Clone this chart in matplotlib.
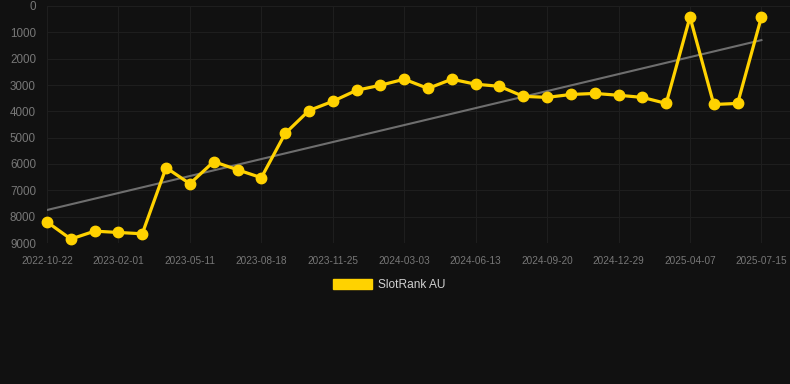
import matplotlib
matplotlib.use("Agg")
import matplotlib.pyplot as plt
import numpy as np

# monthly points, only every third label is shown on the axis
dates = [
    "2022-10-22", "2022-11-25", "2022-12-29", "2023-02-01", "2023-03-06", "2023-04-08",
    "2023-05-11", "2023-06-13", "2023-07-16", "2023-08-18", "2023-09-20", "2023-10-23",
    "2023-11-25", "2023-12-28", "2024-01-30", "2024-03-03", "2024-04-07", "2024-05-10",
    "2024-06-13", "2024-07-16", "2024-08-18", "2024-09-20", "2024-10-23", "2024-11-26",
    "2024-12-29", "2025-01-31", "2025-03-05", "2025-04-07", "2025-05-10", "2025-06-12",
    "2025-07-15",
]
rank = [
    8200, 8850, 8550, 8600, 8650, 6140, 6750, 5910, 6220, 6520,
    4840, 3970, 3620, 3200, 3010, 2780, 3130, 2780, 2970, 3050,
    3430, 3470, 3360, 3320, 3390, 3470, 3700, 420, 3740, 3700, 420,
]
y_ticks = [0, 1000, 2000, 3000, 4000, 5000, 6000, 7000, 8000, 9000]

BG = "#111111"
YELLOW = "#FFD200"

plt.rcParams["font.family"] = ["Liberation Sans", "DejaVu Sans"]

fig = plt.figure(figsize=(7.9, 3.84), dpi=100, facecolor=BG)
ax = fig.add_axes([47 / 790, 1 - 243 / 384, (790 - 47) / 790, (243 - 6) / 384])
ax.set_facecolor(BG)

x = np.arange(len(dates))
slope, icpt = np.polyfit(x, rank, 1)
ax.plot(x, slope * x + icpt, color="#6e6e6e", lw=1.5, zorder=2)
ax.plot(x, rank, color=YELLOW, lw=2.3, marker="o", ms=7.5, zorder=3,
        clip_on=False, label="SlotRank AU")

ax.set_xlim(0, 31.2)
ax.set_ylim(9000, 0)
ax.set_yticks(y_ticks)
ax.set_xticks(x[::3])
ax.set_xticklabels(dates[::3])
ax.grid(True, color="#1e1e1e", lw=0.8)
ax.set_axisbelow(True)
for s in ax.spines.values():
    s.set_visible(False)
ax.tick_params(axis="y", length=0, pad=8, labelsize=8.4, labelcolor="#777777")
ax.tick_params(axis="x", length=0, pad=9, labelsize=7.2, labelcolor="#777777")

handle = plt.Rectangle((0, 0), 1, 1, color=YELLOW)
fig.legend([handle], ["SlotRank AU"], loc="center", bbox_to_anchor=(389 / 790, 1 - 285 / 384),
           frameon=False, fontsize=8.6, labelcolor="#d0d0d0", handlelength=3.3,
           handleheight=0.9, handletextpad=0.5)

fig.savefig("out.png", dpi=100, facecolor=BG)
